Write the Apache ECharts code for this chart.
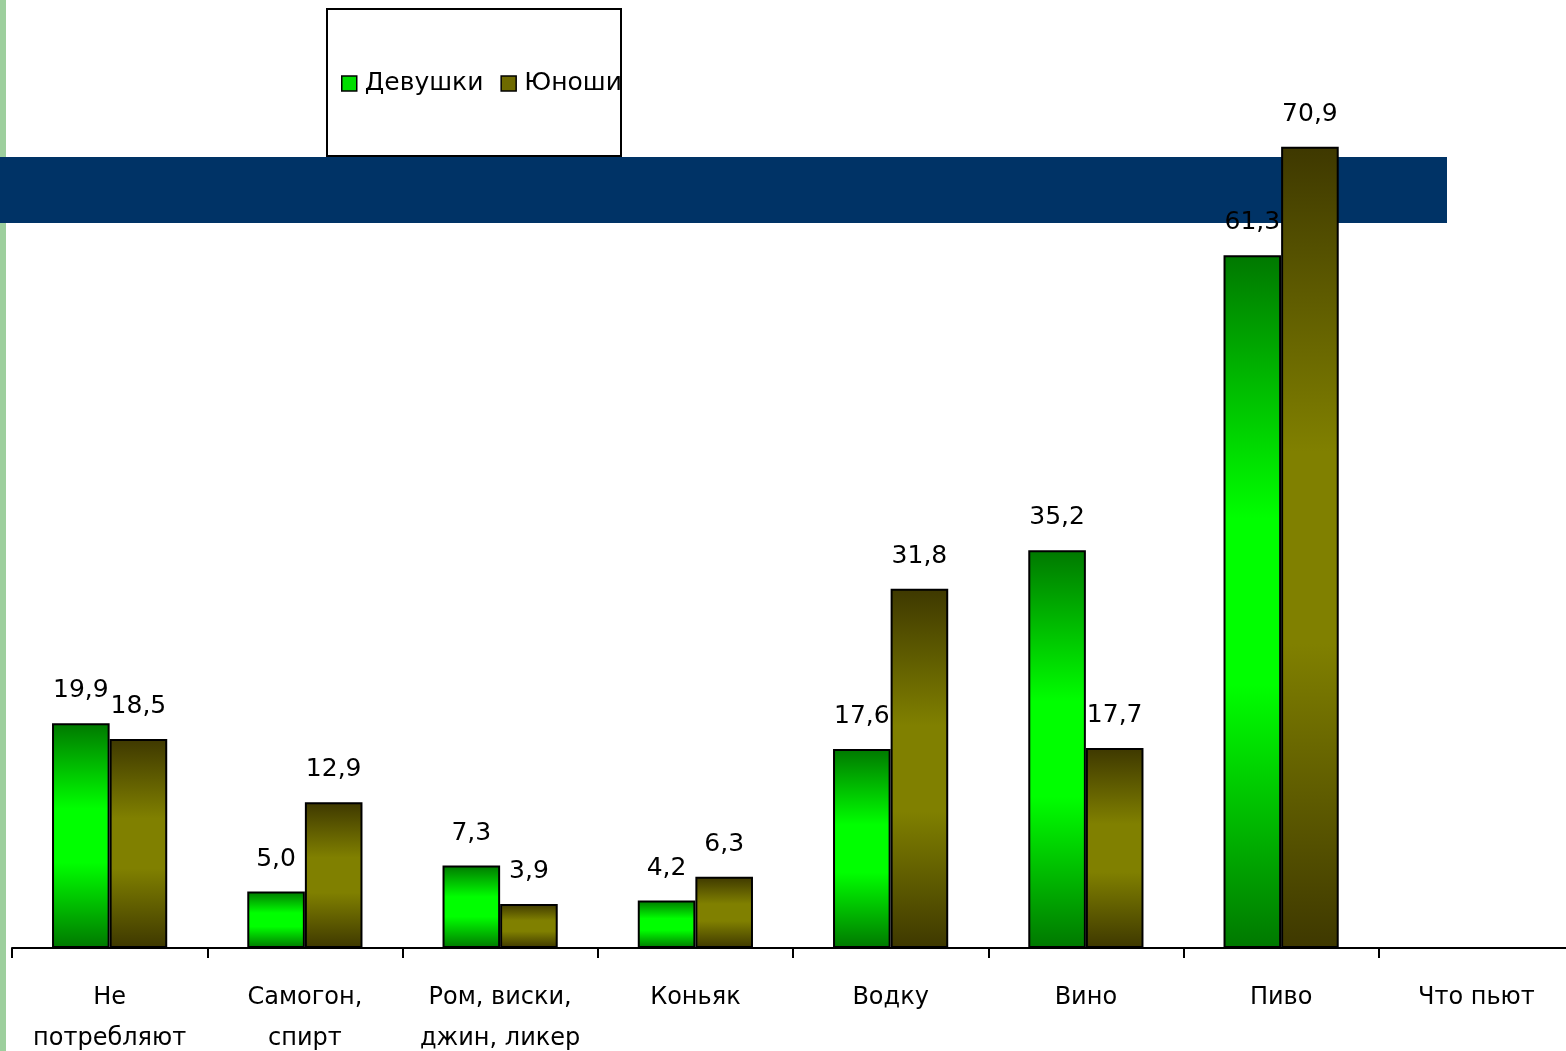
<!DOCTYPE html>
<html>
<head>
<meta charset="utf-8">
<script src="https://cdn.jsdelivr.net/npm/echarts@6/dist/echarts.min.js"></script>
<style>
html,body{margin:0;padding:0;background:#fff;}
#chart{width:1566px;height:1051px;}
</style>
</head>
<body>
<div id="chart"></div>
<script>
var categories = ['Не\nпотребляют', 'Самогон,\nспирт', 'Ром, виски,\nджин, ликер', 'Коньяк', 'Водку', 'Вино', 'Пиво', 'Что пьют'];
var seriesNames = ['Девушки', 'Юноши'];
var girls = [19.9, 5.0, 7.3, 4.2, 17.6, 35.2, 61.3, null];
var boys = [18.5, 12.9, 3.9, 6.3, 31.8, 17.7, 70.9, null];

function grad(dark, light) {
  return new echarts.graphic.LinearGradient(0, 0, 0, 1, [
    {offset: 0, color: dark},
    {offset: 0.38, color: light},
    {offset: 0.62, color: light},
    {offset: 1, color: dark}
  ]);
}
var FONT = 'DejaVu Sans';
var labelCfg = {
  show: true,
  position: 'top',
  distance: 20,
  color: '#000',
  fontSize: 25,
  fontFamily: FONT,
  formatter: function (p) { return p.value == null ? '' : Number(p.value).toFixed(1).replace('.', ','); }
};

var chart = echarts.init(document.getElementById('chart'));
chart.setOption({
  animation: false,
  backgroundColor: '#fff',
  graphic: [
    {type: 'rect', z: 0, shape: {x: 0, y: 0, width: 6, height: 1051}, style: {fill: '#9dcf9d'}},
    {type: 'rect', z: 0, shape: {x: 0, y: 157, width: 1447, height: 66}, style: {fill: '#003366'}},
    {type: 'rect', z: 0, shape: {x: 327, y: 9, width: 294, height: 147}, style: {fill: '#fff', stroke: '#000', lineWidth: 2}},
    {type: 'text', z: 0, x: 1218, y: -4, style: {text: 'у', fill: '#007070', font: '40px "DejaVu Sans"', textVerticalAlign: 'bottom'}}
  ],
  legend: {
    left: 336,
    top: 66,
    itemWidth: 15,
    itemHeight: 15,
    itemGap: 17,
    textStyle: {fontSize: 25, fontFamily: FONT, color: '#000', padding: [0, 0, 0, 3]},
    data: [
      {name: seriesNames[0], icon: 'rect', itemStyle: {color: '#00dd00', borderColor: '#000', borderWidth: 1.5}},
      {name: seriesNames[1], icon: 'rect', itemStyle: {color: '#6e6a00', borderColor: '#000', borderWidth: 1.5}}
    ]
  },
  grid: {left: 12, width: 1562, top: 44, bottom: 103, containLabel: false, outerBoundsMode: 'none'},
  xAxis: {
    type: 'category',
    data: categories,
    axisLine: {lineStyle: {color: '#000', width: 2}},
    axisTick: {show: true, length: 10, lineStyle: {color: '#000', width: 2}},
    axisLabel: {interval: 0, color: '#000', fontSize: 24, fontFamily: FONT, lineHeight: 41, margin: 29}
  },
  yAxis: {type: 'value', min: 0, max: 80, show: false, splitLine: {show: false}},
  series: [
    {
      name: seriesNames[0], type: 'bar', data: girls,
      barGap: '0%', barCategoryGap: '41%',
      itemStyle: {color: grad('#007800', '#00ff00'), borderColor: '#000', borderWidth: 2},
      label: labelCfg
    },
    {
      name: seriesNames[1], type: 'bar', data: boys,
      itemStyle: {color: grad('#3e3800', '#808000'), borderColor: '#000', borderWidth: 2},
      label: labelCfg
    }
  ]
});
</script>
</body>
</html>
